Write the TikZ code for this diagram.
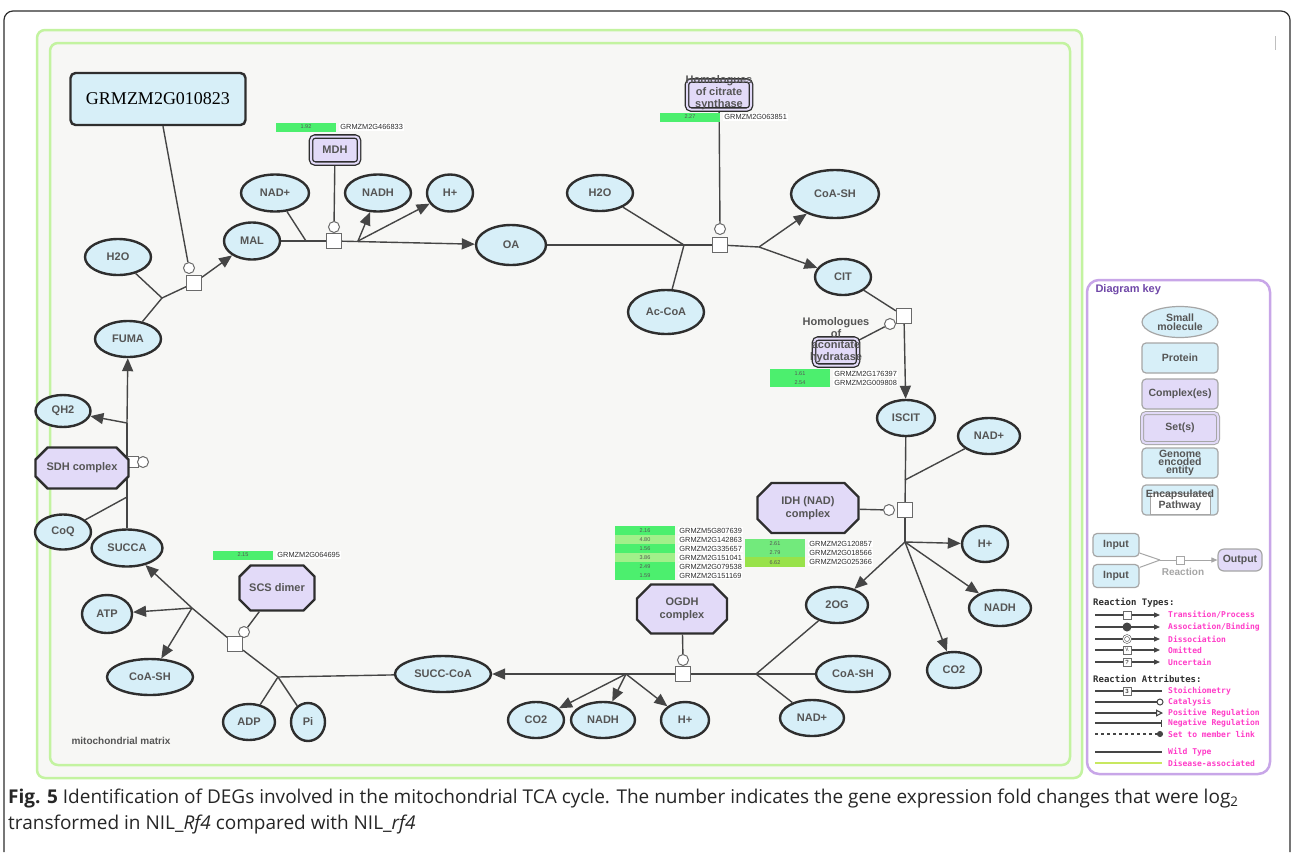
\documentclass[tikz,border=0pt]{standalone}
\usepackage{fontspec}
\usepackage{tikz}
\usetikzlibrary{shapes.geometric,shapes.misc,arrows.meta,backgrounds}

\newfontfamily\lab{Liberation Sans}
\newfontfamily\labserif{Liberation Serif}
\newfontfamily\capfont{Open Sans}
\newfontfamily\keyfont{DejaVu Sans Mono}

\definecolor{molc}{HTML}{D7EFF8}
\definecolor{cplxc}{HTML}{E2DAF8}
\definecolor{edgec}{HTML}{2E2E2E}
\definecolor{linec}{HTML}{454545}
\definecolor{txtc}{HTML}{555555}
\definecolor{barg}{HTML}{4CEF6E}
\definecolor{barl}{HTML}{A2F08A}
\definecolor{barm}{HTML}{72EA7C}
\definecolor{bary}{HTML}{98E24A}
\definecolor{frameg}{HTML}{C3F3A0}
\definecolor{matrixc}{HTML}{F7F7F5}
\definecolor{keyc}{HTML}{C8A6E8}
\definecolor{keyt}{HTML}{FF3CC8}
\definecolor{keyh}{HTML}{7048A8}
\definecolor{disc}{HTML}{C8E860}

\tikzset{
  sz/.style 2 args={minimum width=#1, minimum height=#2},
  mol/.style={ellipse, draw=edgec, line width=2.4pt, fill=molc, inner sep=0pt,
    text=txtc, font=\lab\bfseries\fontsize{11}{13}\selectfont},
  prot/.style={rectangle, rounded corners=5pt, draw=edgec, line width=2.4pt,
    fill=molc, inner sep=0pt},
  cplx/.style={chamfered rectangle, chamfered rectangle sep=7pt, draw=edgec,
    line width=2.4pt, fill=cplxc, inner sep=0pt, align=center, text=txtc,
    font=\lab\bfseries\fontsize{11}{13}\selectfont},
  setn/.style={rectangle, rounded corners=4pt, draw=edgec, line width=1.3pt,
    double=cplxc, double distance=2pt, fill=cplxc, inner sep=0pt, text=txtc,
    font=\lab\bfseries\fontsize{11}{13}\selectfont},
  proc/.style={rectangle, draw=linec!80, line width=1pt, fill=white,
    minimum size=15pt, inner sep=0pt},
  cat/.style={circle, draw=linec!80, line width=1pt, fill=white,
    minimum size=11pt, inner sep=0pt},
  ln/.style={draw=linec, line width=1.4pt},
  rx/.style={ln, -{Triangle[length=13pt,width=11pt]}},
  bar/.style={rectangle, inner sep=0pt, minimum width=60pt, minimum height=9pt,
    font=\lab\fontsize{5.5}{6}\selectfont, text=txtc},
  gene/.style={anchor=west, inner sep=1pt, fill=white, text=edgec,
    font=\lab\fontsize{7.4}{8}\selectfont},
  keyn/.style={rectangle, rounded corners=4pt, draw=gray!70, line width=1.2pt,
    fill=molc, sz={76}{30}, inner sep=0pt, align=center, text=txtc,
    font=\lab\bfseries\fontsize{10.5}{8}\selectfont},
  keyl/.style={draw=linec, line width=1.1pt},
  keylab/.style={anchor=west, inner sep=0pt, text=keyt,
    font=\keyfont\bfseries\fontsize{8}{9}\selectfont},
}

\begin{document}
\begin{tikzpicture}[x=1pt, y=-1pt]
\useasboundingbox (0,0) rectangle (1292,852);

% frames
\begin{scope}[on background layer]
\fill[white] (0,0) rectangle (1292,852);
\draw[edgec, line width=1.2pt, rounded corners=9pt] (4,852) -- (4,11) -- (1290,11) -- (1290,852);
\draw[frameg, line width=2.5pt, fill=matrixc, rounded corners=8pt] (37,30) rectangle (1082,778);
\draw[frameg, line width=2.5pt, rounded corners=8pt] (50,43) rectangle (1070,765);
\draw[keyc, line width=2.5pt, fill=white, rounded corners=12pt] (1087,280) rectangle (1270,774);
\draw[gray!50, line width=1pt] (1275,36) -- (1275,50);
\end{scope}

\node[anchor=west, text=txtc, font=\lab\bfseries\fontsize{10}{12}\selectfont] (mm) at (68,741) {mitochondrial matrix};

% left side
\node[prot, sz={175}{52}, text=black, font=\labserif\fontsize{18}{20}\selectfont] (g823) at (158,99) {GRMZM2G010823};
\node[mol, sz={66}{36}] (h2oa) at (118,257) {H2O};
\node[mol, sz={66}{36}] (fuma) at (128,339) {FUMA};
\node[mol, sz={55}{32}] (qh2) at (63,411) {QH2};
\node[proc, minimum size=11pt] (p8) at (133,462) {};
\node[cat] (c8) at (143,462) {};
\node[cplx, sz={93}{41}] (sdh) at (82,468) {SDH complex};
\node[mol, sz={56}{35}] (coq) at (63,532) {CoQ};
\node[mol, sz={71}{37}] (succa) at (127,548) {SUCCA};
\node[mol, sz={50}{38}] (atp) at (107,614) {ATP};
\node[mol, sz={86}{36}] (coash1) at (150,677) {CoA-SH};

% bottom
\node[mol, sz={52}{36}] (adp) at (249,722) {ADP};
\node[mol, sz={34}{38}] (pi) at (308,722) {Pi};
\node[cplx, sz={75}{45}] (scs) at (277,588) {SCS dimer};
\node[mol, sz={96}{36}] (succoa) at (443,674) {SUCC-CoA};
\node[mol, sz={56}{36}] (co2a) at (536,720) {CO2};
\node[mol, sz={64}{36}] (nadha) at (603,720) {NADH};
\node[mol, sz={48}{36}] (hpa) at (685,720) {H+};
\node[cplx, sz={90}{49}] (ogdh) at (682,609) {OGDH\\complex};
\node[mol, sz={64}{36}] (nadpa) at (812,718) {NAD+};
\node[mol, sz={74}{36}] (coash2) at (853,674) {CoA-SH};
\node[mol, sz={62}{36}] (og) at (837,605) {2OG};

% right side
\node[mol, sz={54}{36}] (co2b) at (954,670) {CO2};
\node[mol, sz={62}{36}] (nadhb) at (1000,608) {NADH};
\node[mol, sz={46}{36}] (hpb) at (985,544) {H+};
\node[cplx, sz={101}{50}] (idh) at (808,508) {IDH (NAD)\\complex};
\node[mol, sz={58}{36}] (iscit) at (906,418) {ISCIT};
\node[mol, sz={62}{36}] (nadpb) at (989,436) {NAD+};
\node[setn, sz={44}{27}] (aco) at (836,352) {};
\node[align=center, text=txtc, font=\lab\bfseries\fontsize{11}{11.5}\selectfont] (acotxt) at (836,340) {Homologues\\of\\aconitate\\hydratase};
\node[mol, sz={56}{36}] (cit) at (843,277) {CIT};
\node[mol, sz={88}{48}] (coash3) at (835,194) {CoA-SH};

% top
\node[mol, sz={76}{44}] (acoa) at (666,312) {Ac-CoA};
\node[mol, sz={66}{36}] (h2ob) at (600,193) {H2O};
\node[mol, sz={70}{40}] (oa) at (511,245) {OA};
\node[setn, sz={64}{29}] (cs) at (719,95) {};
\node[align=center, text=txtc, font=\lab\bfseries\fontsize{11}{12}\selectfont] (cstxt) at (719,93) {Homologues\\of citrate\\synthase};
\node[setn, sz={48}{27}] (mdh) at (335,150) {MDH};
\node[mol, sz={68}{37}] (nadpc) at (275,193) {NAD+};
\node[mol, sz={66}{37}] (nadhc) at (378,193) {NADH};
\node[mol, sz={46}{37}] (hpc) at (450,193) {H+};
\node[mol, sz={56}{37}] (mal) at (252,241) {MAL};

% reactions
\node[proc] (p1) at (194,283) {};
\node[proc] (p2) at (334,241) {};
\node[proc] (p3) at (720,245) {};
\node[proc] (p4) at (904,316) {};
\node[proc] (p5) at (905,510) {};
\node[proc] (p6) at (683,674) {};
\node[proc] (p7) at (235,644) {};
\node[cat] (c1) at (189,268) {};
\node[cat] (c2) at (334,227) {};
\node[cat] (c3) at (720,229) {};
\node[cat] (c4) at (890,324) {};
\node[cat] (c5) at (889,510) {};
\node[cat] (c6) at (683,660) {};
\node[cat] (c7) at (244,632) {};

\coordinate (j1) at (162,298);
\coordinate (j2) at (306,241);
\coordinate (b2) at (358,241);
\coordinate (j3) at (684,245);
\coordinate (b3) at (759,247);
\coordinate (j5) at (905,480);
\coordinate (b5) at (905,542);
\coordinate (j6) at (756,674);
\coordinate (b6) at (626,674);
\coordinate (j7) at (278,677);
\coordinate (b7) at (192,608);
\coordinate (j8) at (127,497);
\coordinate (b8) at (127,423);

% fold changes
\node[bar, fill=barg] (bmdh) at (306,127) {1.92};
\node[gene] (gmdh) at ([xshift=3pt]bmdh.east) {GRMZM2G466833};
\node[bar, fill=barg] (bcs) at (690,117) {2.27};
\node[gene] (gcs) at ([xshift=3pt]bcs.east) {GRMZM2G063851};
\node[bar, fill=barg] (bscs) at (243,555) {2.15};
\node[gene] (gscs) at ([xshift=3pt]bscs.east) {GRMZM2G064695};
\foreach \v/\g [count=\i] in {1.61/GRMZM2G176397, 2.54/GRMZM2G009808} {
  \node[bar, fill=barg] (baco\i) at (800,364.5+9*\i) {\v};
  \node[gene] (gaco\i) at ([xshift=3pt]baco\i.east) {\g};
}
\foreach \v/\g/\c [count=\i] in {2.16/GRMZM5G807639/barg, 4.80/GRMZM2G142863/barl,
    1.56/GRMZM2G335657/barg, 3.86/GRMZM2G151041/barl, 2.49/GRMZM2G079538/barg,
    1.59/GRMZM2G151169/barg} {
  \node[bar, fill=\c] (bog\i) at (645,521.5+9*\i) {\v};
  \node[gene] (gog\i) at ([xshift=3pt]bog\i.east) {\g};
}
\foreach \v/\g/\c [count=\i] in {2.61/GRMZM2G120857/barm, 2.79/GRMZM2G018566/barm,
    6.62/GRMZM2G025366/bary} {
  \node[bar, fill=\c, minimum height=9.3pt] (bidh\i) at (775,534.2+9.3*\i) {\v};
  \node[gene] (gidh\i) at ([xshift=3pt]bidh\i.east) {\g};
}

% connectors
\begin{scope}[on background layer]
\draw[ln] (fuma) -- (j1);
\draw[ln] (h2oa) -- (j1);
\draw[ln] (j1) -- (p1);
\draw[rx] (p1) -- (mal);
\draw[ln] (g823) -- (c1);
\draw[ln] (mal) -- (p2);
\draw[ln] (nadpc) -- (j2);
\draw[rx] (p2) -- (oa);
\draw[rx] (b2) -- (nadhc);
\draw[rx] (b2) -- (hpc);
\draw[ln] (mdh) -- (c2);
\draw[ln] (oa) -- (j3);
\draw[ln] (h2ob) -- (j3);
\draw[ln] (acoa) -- (j3);
\draw[ln] (j3) -- (p3);
\draw[ln] (p3) -- (b3);
\draw[rx] (b3) -- (coash3);
\draw[rx] (b3) -- (cit);
\draw[ln] (cs) -- (c3);
\draw[ln] (cit) -- (p4);
\draw[rx] (p4) -- (iscit);
\draw[ln] (aco) -- (c4);
\draw[ln] (iscit) -- (p5);
\draw[ln] (nadpb) -- (j5);
\draw[ln] (p5) -- (b5);
\draw[rx] (b5) -- (hpb);
\draw[rx] (b5) -- (nadhb);
\draw[rx] (b5) -- (co2b);
\draw[rx] (b5) -- (og);
\draw[ln] (idh) -- (c5);
\draw[ln] (og) -- (j6);
\draw[ln] (coash2) -- (j6);
\draw[ln] (nadpa) -- (j6);
\draw[ln] (j6) -- (p6);
\draw[ln] (p6) -- (b6);
\draw[rx] (b6) -- (co2a);
\draw[rx] (b6) -- (nadha);
\draw[rx] (b6) -- (hpa);
\draw[rx] (b6) -- (succoa);
\draw[ln] (ogdh) -- (c6);
\draw[ln] (succoa) -- (j7);
\draw[ln] (adp) -- (j7);
\draw[ln] (pi) -- (j7);
\draw[ln] (j7) -- (p7);
\draw[ln] (p7) -- (b7);
\draw[rx] (b7) -- (succa);
\draw[rx] (b7) -- (atp);
\draw[rx] (b7) -- (coash1);
\draw[ln] (scs) -- (c7);
\draw[ln] (succa) -- (j8);
\draw[ln] (j8) -- (b8);
\draw[rx] (b8) -- (fuma);
\draw[ln] (coq) -- (j8);
\draw[rx] (b8) -- (qh2);
\end{scope}

% diagram key
\node[anchor=west, text=keyh, font=\lab\bfseries\fontsize{11}{12}\selectfont] (ktitle) at (1092,290) {Diagram key};
\node[mol, sz={76}{31}, line width=1.2pt, draw=gray!70, align=center, font=\lab\bfseries\fontsize{10.5}{7}\selectfont] (kmol) at (1180,322) {Small\\molecule};
\node[keyn] (kprot) at (1180,358) {Protein};
\node[keyn, fill=cplxc] (kcplx) at (1180,394) {Complex(es)};
\node[keyn, fill=cplxc, double=cplxc, double distance=2pt, line width=1pt] (kset) at (1180,428) {Set(s)};
\node[keyn] (kgen) at (1180,463) {Genome\\encoded\\entity};
\node[keyn] (kpath) at (1180,500) {};
\node[rectangle, draw=gray!70, line width=1pt, fill=white, sz={60}{21}] (kpin) at (1180,504) {};
\node[align=center, text=txtc, font=\lab\bfseries\fontsize{10.5}{7}\selectfont] (kptxt) at (1180,500) {Encapsulated\\Pathway};

\node[keyn, sz={46}{23}] (kin1) at (1116,545) {Input};
\node[keyn, sz={46}{23}] (kin2) at (1116,576) {Input};
\node[keyn, sz={44}{22}, fill=cplxc, rounded corners=6pt] (kout) at (1240,560) {Output};
\coordinate (kj) at (1160,560);
\node[proc, minimum size=8pt, draw=gray!70] (ksq) at (1180,560) {};
\node[text=gray!70, font=\lab\bfseries\fontsize{10}{11}\selectfont] (krx) at (1183,572) {Reaction};
\draw[gray!70, line width=1pt] (kin1) -- (kj);
\draw[gray!70, line width=1pt] (kin2) -- (kj);
\draw[gray!70, line width=1pt] (kj) -- (ksq);
\draw[gray!70, line width=1pt, -{Triangle[length=6pt,width=5pt]}] (ksq) -- (kout);

\node[anchor=west, inner sep=0pt, text=edgec, font=\keyfont\bfseries\fontsize{9}{10}\selectfont] (ktypes) at (1093,603) {Reaction Types:};
\draw[keyl, -{Triangle[length=6pt,width=5pt]}] (1095,615) -- (1160,615);
\node[proc, minimum size=8pt] (kt1) at (1127,615) {};
\draw[keyl, -{Triangle[length=6pt,width=5pt]}] (1095,627) -- (1160,627);
\node[circle, fill=linec, minimum size=9pt, inner sep=0pt] (kt2) at (1127,627) {};
\draw[keyl, -{Triangle[length=6pt,width=5pt]}] (1095,639) -- (1160,639);
\node[circle, draw=linec, fill=white, minimum size=9pt, inner sep=0pt] (kt3) at (1127,639) {};
\node[circle, draw=linec, minimum size=5pt, inner sep=0pt] (kt3b) at (1127,639) {};
\draw[keyl, -{Triangle[length=6pt,width=5pt]}] (1095,650) -- (1160,650);
\node[proc, minimum size=8pt, font=\lab\fontsize{5}{5}\selectfont] (kt4) at (1127,650) {\textbackslash\textbackslash};
\draw[keyl, -{Triangle[length=6pt,width=5pt]}] (1095,662) -- (1160,662);
\node[proc, minimum size=8pt, font=\lab\fontsize{6}{6}\selectfont] (kt5) at (1127,662) {?};
\node[keylab] (kl1) at (1168,615) {Transition/Process};
\node[keylab] (kl2) at (1168,627) {Association/Binding};
\node[keylab] (kl3) at (1168,639) {Dissociation};
\node[keylab] (kl4) at (1168,650) {Omitted};
\node[keylab] (kl5) at (1168,662) {Uncertain};

\node[anchor=west, inner sep=0pt, text=edgec, font=\keyfont\bfseries\fontsize{9}{10}\selectfont] (kattr) at (1093,679) {Reaction Attributes:};
\draw[keyl] (1095,691) -- (1162,691);
\node[proc, minimum size=8pt, font=\lab\fontsize{6}{6}\selectfont] (ka1) at (1127,691) {3};
\draw[keyl] (1095,702) -- (1157,702);
\node[circle, draw=linec, fill=white, minimum size=6pt, inner sep=0pt, line width=1pt] (ka2) at (1160,702) {};
\draw[keyl, -{Triangle[open, length=7pt, width=7pt]}] (1095,713) -- (1163,713);
\draw[keyl, -{Bar[width=7pt]}] (1095,723) -- (1162,723);
\draw[keyl, dashed, -{Circle[length=6pt]}] (1095,734) -- (1163,734);
\draw[keyl] (1095,752) -- (1162,752);
\draw[disc, line width=1.1pt] (1095,763) -- (1162,763);
\node[keylab] (ka1l) at (1168,691) {Stoichiometry};
\node[keylab] (ka2l) at (1168,702) {Catalysis};
\node[keylab] (ka3l) at (1168,713) {Positive Regulation};
\node[keylab] (ka4l) at (1168,723) {Negative Regulation};
\node[keylab] (ka5l) at (1168,734) {Set to member link};
\node[keylab] (ka6l) at (1168,752) {Wild Type};
\node[keylab] (ka7l) at (1168,763) {Disease-associated};

% caption
\node[anchor=base west, align=left, inner sep=0pt, text=black!85, font=\capfont\fontsize{19}{26}\selectfont] (cap) at (8,829)
  {\textbf{Fig. 5} Identification of DEGs involved in the mitochondrial TCA cycle. The number indicates the gene expression fold changes that were log\textsubscript{2}\\
   transformed in NIL\_\textit{Rf4} compared with NIL\_\textit{rf4}};

\end{tikzpicture}
\end{document}
